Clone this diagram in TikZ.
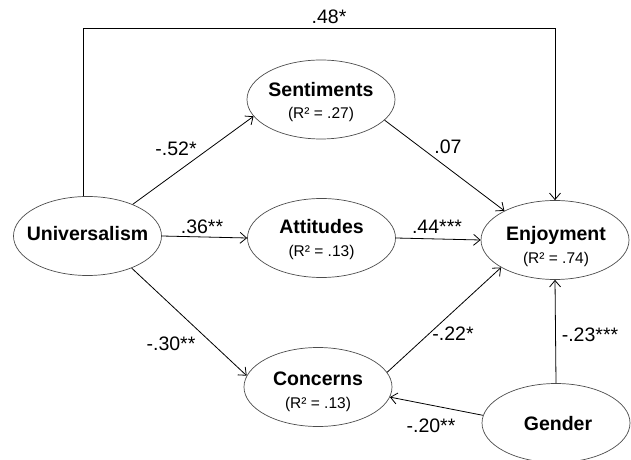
\documentclass[tikz,border=0pt]{standalone}
\usepackage{fontspec}
\setmainfont{Liberation Sans}
\usetikzlibrary{shapes.geometric,arrows.meta}
\begin{document}
\begin{tikzpicture}[x=1bp,y=-1bp,
  var/.style={draw=black!70, line width=0.7bp, ellipse, minimum width=148bp, minimum height=79bp, inner sep=0pt},
  vname/.style={font=\fontsize{19.5bp}{22bp}\selectfont\bfseries, anchor=base, inner sep=0pt},
  rsq/.style={font=\fontsize{15.5bp}{17bp}\selectfont, anchor=base, inner sep=0pt},
  coef/.style={font=\fontsize{19.5bp}{21bp}\selectfont, inner sep=0pt},
  link/.style={draw=black, line width=0.8bp, -{Straight Barb[length=6.5bp,width=11bp]}}
]
\useasboundingbox (0,0) rectangle (631,460);

% variables
\node[var] (univ) at (87.5,236) {};
\node[var] (sent) at (321,99.5) {};
\node[var] (att) at (321.5,238) {};
\node[var] (conc) at (318,387) {};
\node[var] (enj) at (555,240) {};
\node[var] (gend) at (556,423) {};

% texts
\node[vname] (univT) at (87.5,241) {Universalism};
\node[vname] (sentT) at (321,96.5) {Sentiments};
\node[rsq] (sentR) at (321,119) {(R² = .27)};
\node[vname] (attT) at (321.5,234) {Attitudes};
\node[rsq] (attR) at (321.5,257) {(R² = .13)};
\node[vname] (concT) at (318,385) {Concerns};
\node[rsq] (concR) at (318,408) {(R² = .13)};
\node[vname] (enjT) at (556,240.5) {Enjoyment};
\node[rsq] (enjR) at (556,264) {(R² = .74)};
\node[vname] (gendT) at (558,430.5) {Gender};

% connectors
\coordinate (top) at (318,28.5);
\draw[link] (univ.96) |- (top) -| (enj.north);
\draw[link] (univ.35) -- (sent.194.6);
\draw[link] (univ.east) -- (att.west);
\draw[link] (univ.-36.6) -- (conc.171.3);
\draw[link] (sent.-18.3) -- (enj.150.8);
\draw[link] (att.east) -- (enj.west);
\draw[link] (conc.12.5) -- (enj.207.8);
\draw[link] (gend.north) -- (enj.south);
\draw[link] (gend.174.5) -- (conc.-8.4);

% coefficients
\node[coef] (c1) at (329,16.5) {.48*};
\node[coef] (c2) at (176,149) {-.52*};
\node[coef] (c3) at (448,147) {.07};
\node[coef] (c4) at (202,226.5) {.36**};
\node[coef] (c5) at (437,226.5) {.44***};
\node[coef] (c6) at (171,344) {-.30**};
\node[coef] (c7) at (453,334) {-.22*};
\node[coef] (c8) at (590,335) {-.23***};
\node[coef] (c9) at (431,426) {-.20**};
\end{tikzpicture}
\end{document}
